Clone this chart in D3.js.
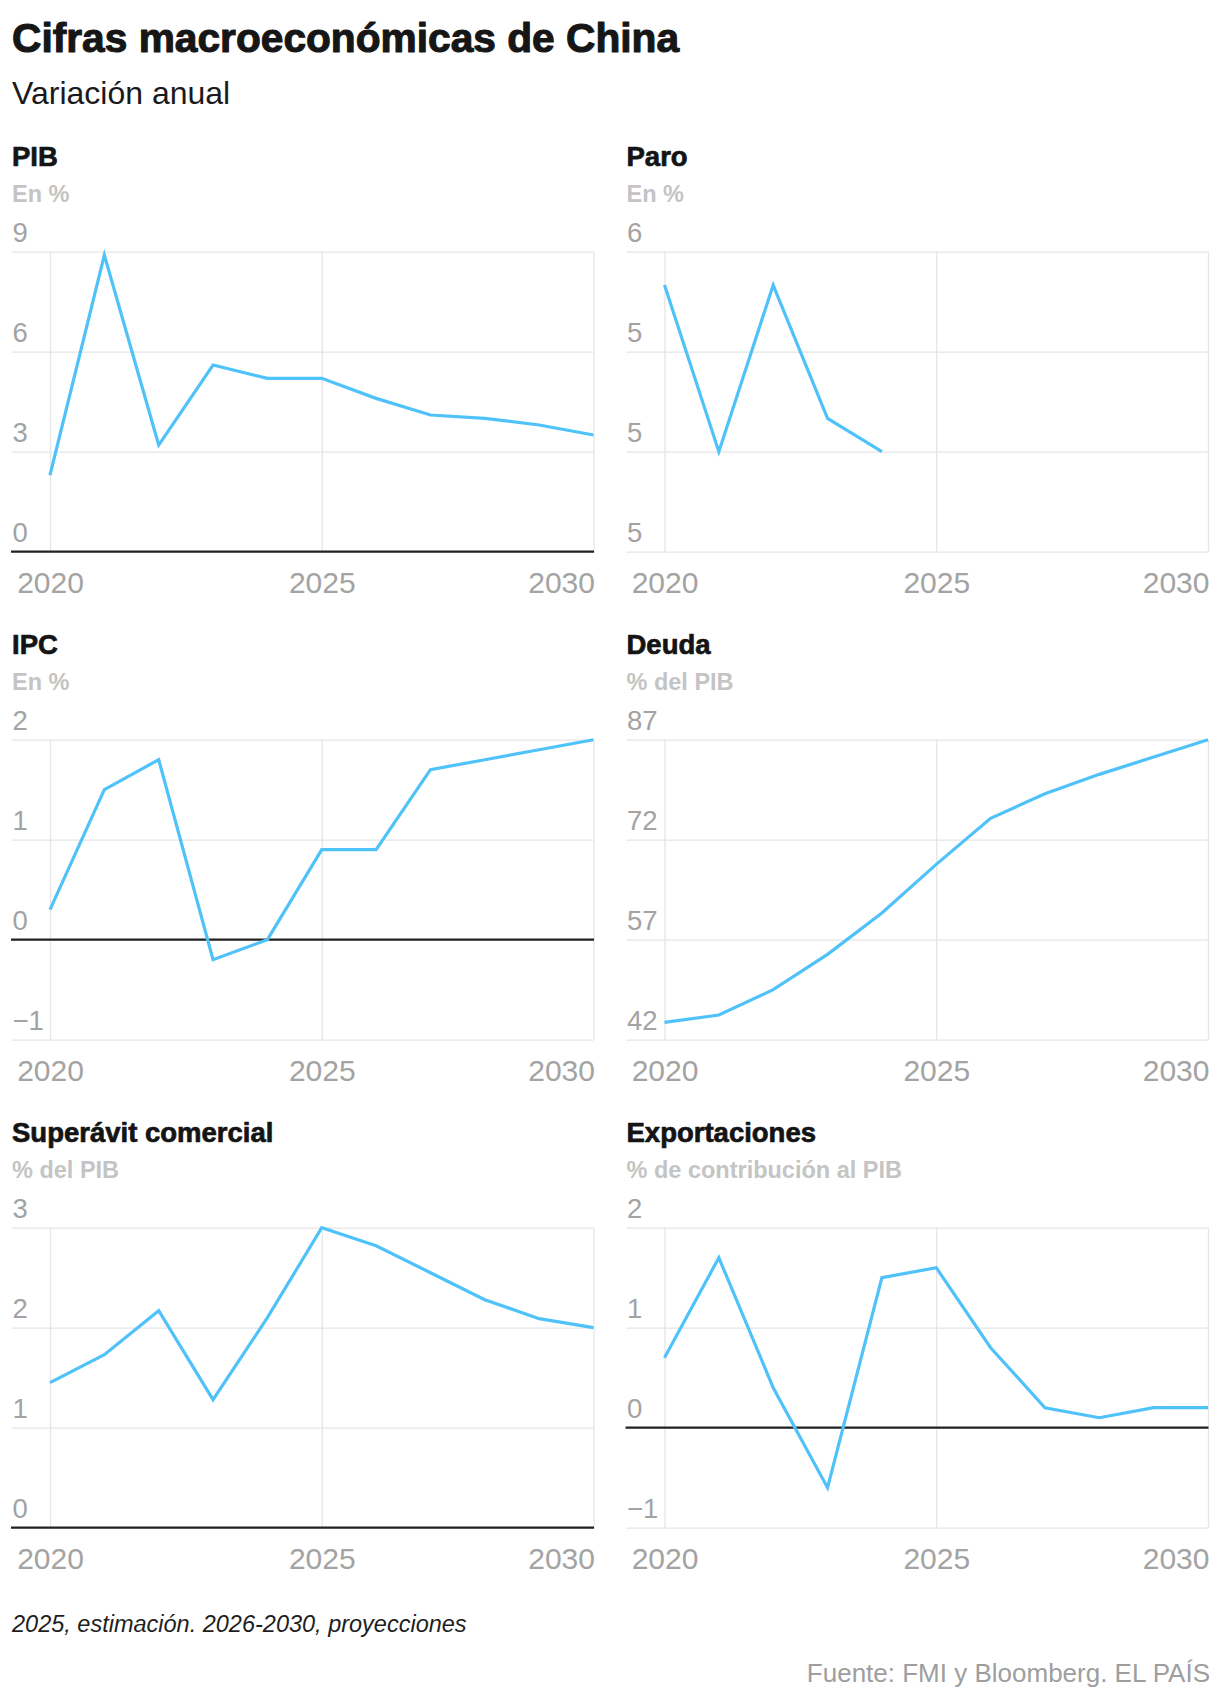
<!DOCTYPE html>
<html lang="es">
<head>
<meta charset="utf-8">
<title>Cifras macroeconómicas de China</title>
<script src="https://cdn.jsdelivr.net/npm/d3@7"></script>
<style>
    body { margin: 0; background: #fff; }
    svg { display: block; font-family: "Liberation Sans", Arial, Helvetica, sans-serif; }
    .grid line { stroke: #e5e5e5; stroke-width: 1.3; }
    .grid .domain { display: none; }
    .tick-y { fill: #a3a3a3; font-size: 27.5px; }
    .tick-x { fill: #a3a3a3; font-size: 30px; }
    .zero { stroke: #222; stroke-width: 2.2; }
    .serie { fill: none; stroke: #50c2fa; stroke-width: 3.2; stroke-linejoin: miter; }
    .heavy { stroke-linejoin: round; paint-order: stroke; }
</style>
</head>
<body>
<div id="chart"></div>
<script>
// Datos
const years = [2020, 2021, 2022, 2023, 2024, 2025, 2026, 2027, 2028, 2029, 2030];
const paroYears = [2020, 2021, 2022, 2023, 2024];
const xTicks = [2020, 2025, 2030];

const pib = [2.3, 8.9, 3.2, 5.6, 5.2, 5.2, 4.6, 4.1, 4.0, 3.8, 3.5];
const paro = [5.6, 5.1, 5.6, 5.2, 5.1];
const ipc = [0.3, 1.5, 1.8, -0.2, 0.0, 0.9, 0.9, 1.7, 1.8, 1.9, 2.0];
const deuda = [44.6, 45.7, 49.5, 54.8, 61.0, 68.3, 75.2, 78.9, 81.8, 84.4, 87.0];
const superavit = [1.45, 1.73, 2.17, 1.28, 2.1, 3.0, 2.82, 2.55, 2.28, 2.09, 2.0];
const exportaciones = [0.7, 1.7, 0.4, -0.6, 1.5, 1.6, 0.8, 0.2, 0.1, 0.2, 0.2];

const pibTicks = [0, 3, 6, 9];
const paroTicks = [4.8, 5.1, 5.4, 5.7];
const ipcTicks = [-1, 0, 1, 2];
const deudaTicks = [42, 57, 72, 87];
const superavitTicks = [0, 1, 2, 3];
const exportTicks = [-1, 0, 1, 2];

const titles = ['PIB', 'Paro', 'IPC', 'Deuda', 'Superávit comercial', 'Exportaciones'];
const units = ['En %', 'En %', 'En %', '% del PIB', '% del PIB', '% de contribución al PIB'];

// Tabla de paneles
const panels = [
    { x: years, v: pib, ticks: pibTicks },
    { x: paroYears, v: paro, ticks: paroTicks },
    { x: years, v: ipc, ticks: ipcTicks },
    { x: years, v: deuda, ticks: deudaTicks },
    { x: years, v: superavit, ticks: superavitTicks },
    { x: years, v: exportaciones, ticks: exportTicks }
].map((p, i) => ({ ...p, title: titles[i], unit: units[i] }));

const width = 1220, height = 1694;
const colOffset = 614.5, rowOffset = 488;
const plotLeft = 50, plotRight = 593.5, gridLeft = 12;
const plotTop = 251.7, plotBottom = 551.7;

const svg = d3.select('#chart').append('svg')
    .attr('width', width)
    .attr('height', height);

svg.append('text')
    .attr('class', 'heavy')
    .attr('x', 12).attr('y', 51.7)
    .attr('font-size', 40.7).attr('font-weight', 700)
    .attr('fill', '#161616').attr('stroke', '#161616').attr('stroke-width', 1.1)
    .text('Cifras macroeconómicas de China');

svg.append('text')
    .attr('x', 12).attr('y', 104)
    .attr('font-size', 32).attr('fill', '#1a1a1a')
    .text('Variación anual');

const x = d3.scaleLinear().domain([2020, 2030]).range([plotLeft, plotRight]);
const fmt = d3.format('.0f');

panels.forEach((p, i) => {
    const g = svg.append('g')
        .attr('transform', `translate(${(i % 2) * colOffset},${Math.floor(i / 2) * rowOffset})`);

    const y = d3.scaleLinear()
        .domain(d3.extent(p.ticks))
        .range([plotBottom, plotTop]);

    // títulos del panel
    g.append('text')
        .attr('class', 'heavy')
        .attr('x', 12).attr('y', 165.7)
        .attr('font-size', 27.5).attr('font-weight', 700)
        .attr('fill', '#141414').attr('stroke', '#141414').attr('stroke-width', 0.7)
        .text(p.title);
    g.append('text')
        .attr('x', 12).attr('y', 201.7)
        .attr('font-size', 23.5).attr('font-weight', 700).attr('fill', '#c4c4c4')
        .text(p.unit);

    // rejilla horizontal + etiquetas
    const yAxis = g.append('g')
        .attr('class', 'grid')
        .attr('transform', `translate(${gridLeft},0)`)
        .call(d3.axisRight(y).tickValues(p.ticks).tickSize(plotRight - gridLeft).tickFormat(fmt));
    yAxis.selectAll('text')
        .attr('class', 'tick-y')
        .attr('x', 0.5).attr('dy', -10)
        .attr('text-anchor', 'start');

    // rejilla vertical + años
    const xAxis = g.append('g')
        .attr('class', 'grid')
        .attr('transform', `translate(0,${plotBottom})`)
        .call(d3.axisBottom(x).tickValues(xTicks).tickSize(-(plotBottom - plotTop)).tickFormat(d3.format('d')));
    xAxis.selectAll('text')
        .attr('class', 'tick-x')
        .attr('y', 41).attr('dy', 0)
        .attr('text-anchor', (d, k) => k === xTicks.length - 1 ? 'end' : 'middle')
        .attr('dx', (d, k) => k === xTicks.length - 1 ? 1 : 0);

    // línea del cero
    if (y.domain()[0] <= 0 && y.domain()[1] >= 0) {
        g.append('line')
            .attr('class', 'zero')
            .attr('x1', gridLeft - 1).attr('x2', plotRight + 0.5)
            .attr('y1', y(0)).attr('y2', y(0));
    }

    // serie
    const line = d3.line()
        .x((d, k) => x(p.x[k]))
        .y(d => y(d));
    g.append('path')
        .datum(p.v)
        .attr('class', 'serie')
        .attr('d', line);
});

svg.append('text')
    .attr('x', 12).attr('y', 1632)
    .attr('font-size', 23.5).attr('font-style', 'italic').attr('fill', '#1e1e1e')
    .text('2025, estimación. 2026-2030, proyecciones');

svg.append('text')
    .attr('x', 1210).attr('y', 1681.7)
    .attr('text-anchor', 'end')
    .attr('font-size', 26).attr('fill', '#9e9e9e')
    .text('Fuente: FMI y Bloomberg. EL PAÍS');
</script>
</body>
</html>
